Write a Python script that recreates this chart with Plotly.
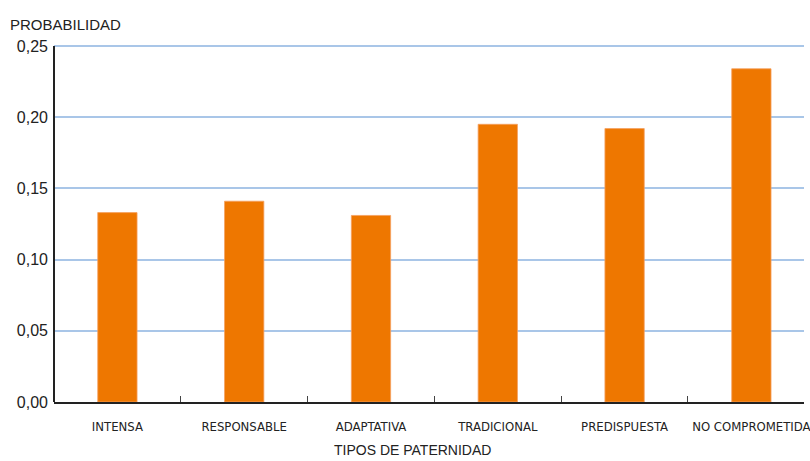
import plotly.graph_objects as go

categorias = ["INTENSA", "RESPONSABLE", "ADAPTATIVA", "TRADICIONAL", "PREDISPUESTA", "NO COMPROMETIDA"]
probabilidad = [0.133, 0.141, 0.131, 0.195, 0.192, 0.234]
y_ticks = [0.0, 0.05, 0.10, 0.15, 0.20, 0.25]

fig = go.Figure()
fig.add_trace(go.Bar(
    x=categorias, y=probabilidad,
    marker=dict(color="#EE7700", line=dict(color="#F5A060", width=0.8)),
    width=0.31,
))

fig.add_shape(type="line", xref="paper", yref="y", x0=0, x1=0,
              y0=0, y1=y_ticks[-1], line=dict(color="#222", width=2))

fig.update_layout(
    width=810, height=461,
    margin=dict(l=54, r=0, t=42, b=59),
    paper_bgcolor="white", plot_bgcolor="white",
    separators=",.",
    showlegend=False,
    font=dict(family="Liberation Sans, Arial, sans-serif", color="#222"),
    xaxis=dict(
        type="category",
        range=[-0.5, 5.415],
        showgrid=False,
        showline=True, linecolor="#222", linewidth=2,
        ticks="inside", tickson="boundaries", ticklen=6, tickcolor="#444", tickwidth=1,
        tickfont=dict(family="Liberation Sans Narrow, DejaVu Sans Condensed, sans-serif", size=13, color="#222"),
        ticklabelstandoff=11,
    ),
    yaxis=dict(
        range=[0, 0.2528],
        tickvals=y_ticks,
        tickformat=".2f",
        showgrid=True, gridcolor="#A9C6E8", gridwidth=2,
        zeroline=False,
        showline=False,
        ticks="", tickfont=dict(size=16, color="#222"),
        ticklabelstandoff=5,
    ),
    annotations=[
        dict(text="PROBABILIDAD", xref="paper", yref="paper", x=-0.062, y=1.048,
             xanchor="left", yanchor="middle", showarrow=False,
             font=dict(size=15, family="Liberation Sans, Arial, sans-serif", color="#222")),
        dict(text="TIPOS DE PATERNIDAD", xref="paper", yref="paper", x=0.4775, y=-0.133,
             xanchor="center", yanchor="middle", showarrow=False,
             font=dict(size=14, family="Liberation Sans, Arial, sans-serif", color="#222")),
    ],
)

fig.write_html("out.html", config={"displayModeBar": False},
               post_script="document.body.style.margin='0';document.body.style.overflow='hidden';")
